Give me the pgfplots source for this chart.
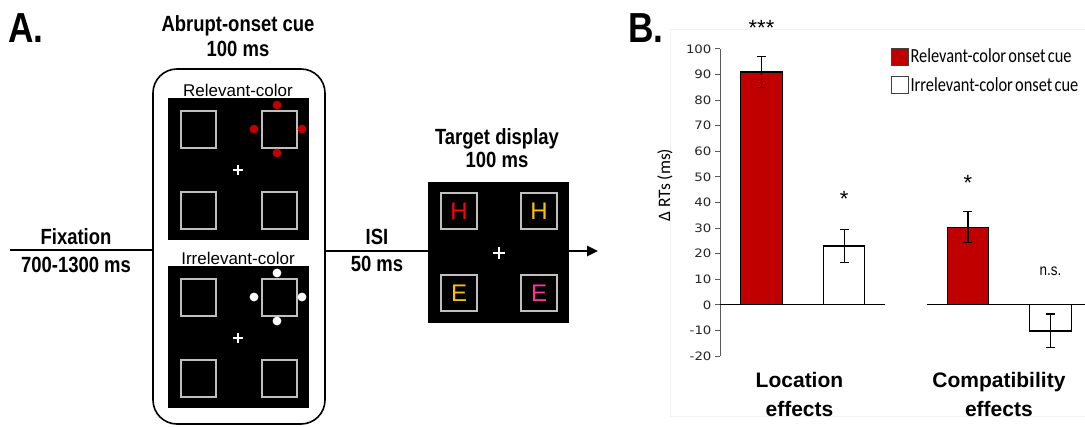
\documentclass[border=0pt]{standalone}
\usepackage{pgfplots}
\pgfplotsset{compat=1.18}
\usepackage{fontspec}
\usetikzlibrary{arrows.meta}
\setmainfont{Liberation Sans}
\newfontfamily\condsans[FakeStretch=0.84]{Liberation Sans}
\newfontfamily\legfont[FakeStretch=0.82,WordSpace=0.6]{Carlito}
\newfontfamily\calib{Carlito}
\newfontfamily\tickfont[FakeStretch=1.15]{DejaVu Sans}
\definecolor{barred}{HTML}{C00000}
\definecolor{sqgray}{HTML}{BFBFBF}
\definecolor{tyellow}{HTML}{FFC000}
\definecolor{tpink}{HTML}{FF3399}
\definecolor{tred}{HTML}{FF0000}
\newcommand{\fs}[1]{\fontsize{#1}{#1}\selectfont}

\begin{document}
\begin{tikzpicture}
\path[use as bounding box] (0,0) rectangle (1085pt,426pt);

% panel A, in pixel coordinates (y pointing down)
\begin{scope}[x=1pt,y=-1pt,shift={(0pt,426pt)}]
  \tikzset{btxt/.style={font=\condsans\bfseries\fs{22}, anchor=base, inner sep=0pt}}
  \node[font=\condsans\bfseries\fs{42}, anchor=base west, inner sep=0pt] at (8,43) {A.};
  \node[font=\condsans\bfseries\fs{42}, anchor=base west, inner sep=0pt] at (628,43) {B.};

  \node[btxt] at (238,32) {Abrupt-onset cue};
  \node[btxt] at (238,57) {100 ms};
  \node[btxt] at (76,245) {Fixation};
  \node[btxt] at (76,273) {700-1300 ms};
  \node[btxt] at (377,245) {ISI};
  \node[btxt] at (377,272) {50 ms};
  \node[btxt] at (497,145) {Target display};
  \node[btxt] at (497,168) {100 ms};

  % time line
  \draw[line width=2.5pt] (10,250) -- (153,250);
  \draw[line width=2.5pt] (325,251) -- (428,251);
  \draw[line width=2.5pt, -{Triangle[length=11pt,width=10pt]}] (569,251) -- (598,251);

  % cue box
  \draw[line width=1.6pt, rounded corners=24pt] (153,69) rectangle (325,424);
  \node[font=\fs{17}, anchor=base, inner sep=0pt] at (238,97) {Relevant-color};
  \node[font=\fs{17}, anchor=base, inner sep=0pt] at (238,265) {Irrelevant-color};

  \foreach \dy/\dc in {0/barred,168/white}{
    \begin{scope}[shift={(0,\dy)}]
      \fill[black] (168,98) rectangle (309,240);
      \draw[sqgray, line width=1.3pt] (181,111) rectangle (216,148)
        (262,111) rectangle (297,148) (181,192) rectangle (216,229)
        (262,192) rectangle (297,229);
      \draw[white, line width=1.2pt] (233,170) -- (243,170) (238,165) -- (238,175);
      \fill[\dc] (277,105) circle[radius=4.4pt] (254,129) circle[radius=4.4pt]
        (302,129) circle[radius=4.4pt] (277,153) circle[radius=4.4pt];
    \end{scope}
  }

  % target display
  \fill[black] (428,182) rectangle (569,323);
  \draw[sqgray, line width=1.3pt] (441,193) rectangle (477,229)
    (521,193) rectangle (557,229) (441,275) rectangle (477,311)
    (521,275) rectangle (557,311);
  \draw[white, line width=2.6pt] (493,253) -- (505,253) (499,247) -- (499,259);
  \node[font=\fs{24}, text=tred, inner sep=0pt] at (459,211) {H};
  \node[font=\fs{24}, text=tyellow, inner sep=0pt] at (539,211) {H};
  \node[font=\fs{24}, text=tyellow, inner sep=0pt] at (459,293) {E};
  \node[font=\fs{24}, text=tpink, inner sep=0pt] at (539,293) {E};

  % faint chart-area frame of panel B
  \draw[black!5, line width=0.8pt] (670,29) rectangle (1085,416);
\end{scope}

% panel B
\begin{axis}[
  at={(720pt,70pt)}, anchor=south west,
  width=365pt, height=307pt, scale only axis,
  xmin=0.599, xmax=2.367, ymin=-20, ymax=100,
  clip=false,
  axis y line*=left, axis x line*=bottom,
  x axis line style={draw=none},
  y axis line style={black!65, line width=1pt},
  xtick={0.984,1.95},
  xticklabels={{Location\\effects},{Compatibility\\effects}},
  xtick style={draw=none},
  xticklabel style={font=\bfseries\fontsize{21}{29}\selectfont, align=center, yshift=-8pt},
  ytick={-20,-10,...,100},
  yticklabels={-20,-10,0,10,20,30,40,50,60,70,80,90,100},
  yticklabel style={font=\tickfont\fontsize{11.6}{13}\selectfont, text=black!85},
  tick align=outside, major tick length=5pt,
  ytick style={black!65, line width=1pt},
  ylabel={Δ RTs (ms)},
  ylabel style={font=\calib\fontsize{17.5}{19}\selectfont, at={(axis description cs:-0.1507,0.557)}, anchor=center},
  legend style={at={(rel axis cs:0.4685,1.006)}, anchor=north west, draw=none, fill=none,
    inner sep=0pt, font=\legfont\fontsize{20}{22}\selectfont, row sep=10pt,
    nodes={inner sep=1.5pt}},
  legend cell align=left,
]
  \addplot[black, line width=1.3pt, forget plot] coordinates {(0.599,0) (1.398,0)};
  \addplot[black, line width=1.3pt, forget plot] coordinates {(1.602,0) (2.367,0)};

  \addplot[ybar, bar width=0.2, bar shift=0pt, fill=barred, draw=black, line width=1.2pt,
    legend image code/.code={\draw[fill=barred, draw=black!75, line width=0.8pt] (0pt,-8.5pt) rectangle (17pt,8.5pt);},
    error bars/.cd, y dir=both, y explicit,
    error bar style={line width=1.1pt, black},
    error mark options={rotate=90, mark size=4.5pt, line width=1.1pt, black}]
    coordinates {(0.8,91) +- (0,6.2) (1.8,30.3) +- (0,6.1)};
  \addplot[ybar, bar width=0.2, bar shift=0pt, fill=white, draw=black, line width=1.2pt,
    legend image code/.code={\draw[fill=white, draw=black!75, line width=0.8pt] (0pt,-8.5pt) rectangle (17pt,8.5pt);},
    error bars/.cd, y dir=both, y explicit,
    error bar style={line width=1.1pt, black},
    error mark options={rotate=90, mark size=4.5pt, line width=1.1pt, black}]
    coordinates {(1.2,23) +- (0,6.5) (2.2,-10.2) +- (0,6.6)};
  \legend{Relevant-color onset cue, Irrelevant-color onset cue}

  \node[font=\fs{22}, anchor=base] at (axis cs:0.8,105.3) {***};
  \node[font=\fs{22}, anchor=base] at (axis cs:1.2,38.5) {*};
  \node[font=\fs{22}, anchor=base] at (axis cs:1.8,44.8) {*};
  \node[font=\condsans\fs{16}, anchor=base] at (axis cs:2.2,11.3) {n.s.};
\end{axis}
\end{tikzpicture}
\end{document}
